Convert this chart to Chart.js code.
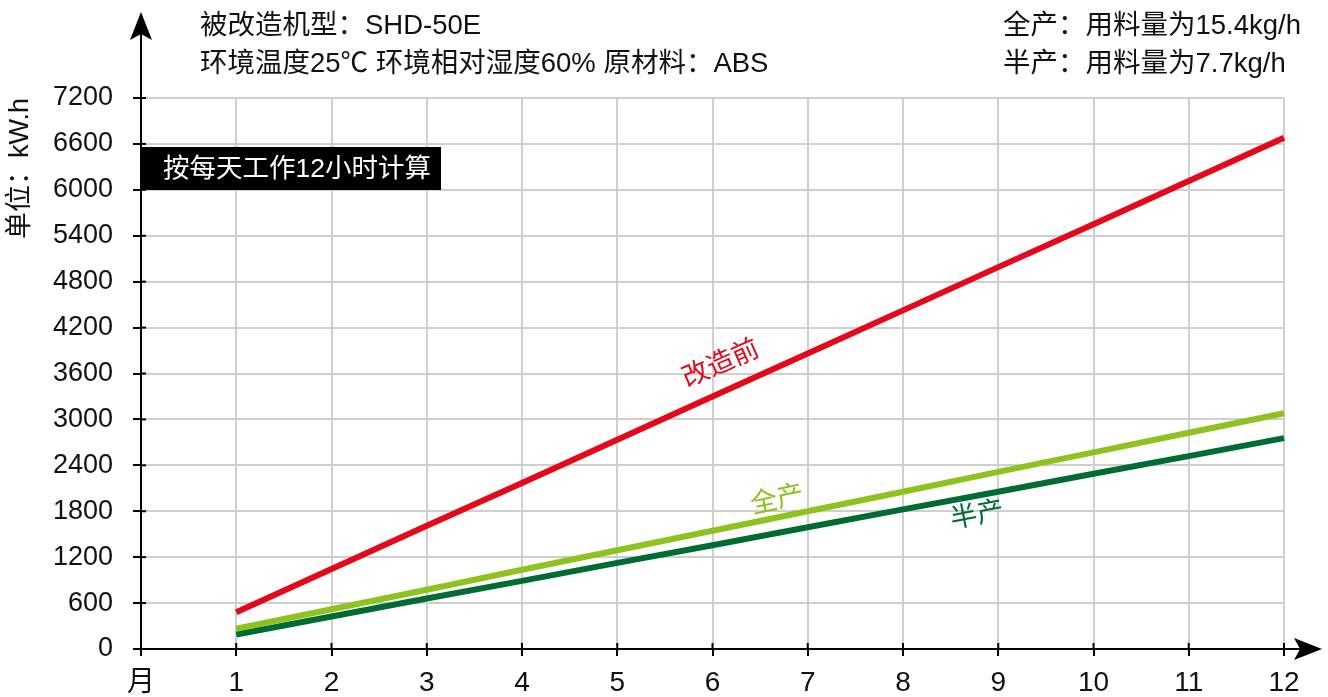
<!DOCTYPE html>
<html>
<head>
<meta charset="utf-8">
<script src="https://cdn.jsdelivr.net/npm/chart.js@4/dist/chart.umd.min.js"></script>
<style>
html,body{margin:0;padding:0;background:#fff;}
#wrap{width:1328px;height:697px;position:relative;}
</style>
</head>
<body>
<div id="wrap"><canvas id="c" width="1328" height="697"></canvas></div>
<script>
// ---- data ----
const categories = ['月','1','2','3','4','5','6','7','8','9','10','11','12'];
const beforeValues = [480,1045,1610,2170,2735,3300,3860,4425,4990,5550,6115,6680];
const fullValues   = [265,520,775,1035,1290,1545,1800,2055,2315,2570,2825,3080];
const halfValues   = [190,425,660,890,1125,1355,1590,1825,2055,2290,2520,2755];
const seriesNames = ['改造前','全产','半产'];
const yTicks = [0,600,1200,1800,2400,3000,3600,4200,4800,5400,6000,6600,7200];
const yTitle = '单位：kW.h';
const noteText = '按每天工作12小时计算';
const headerLeft = ['被改造机型：SHD-50E','环境温度25℃ 环境相对湿度60% 原材料：ABS'];
const headerRight = ['全产：用料量为15.4kg/h','半产：用料量为7.7kg/h'];

const FONT = "'Liberation Sans','Noto Sans CJK SC',sans-serif";
const RED = '#e3091b', LG = '#8dc21f', DG = '#006b33';

const extras = {
  id:'extras',
  afterDraw(chart){
    const ctx = chart.ctx, ca = chart.chartArea;
    const xs = chart.scales.x, ys = chart.scales.y;
    ctx.save();
    // inner tick stubs
    ctx.strokeStyle = '#000'; ctx.lineWidth = 2;
    yTicks.forEach(v=>{ if(v===0) return; const p = ys.getPixelForValue(v);
      ctx.beginPath(); ctx.moveTo(ca.left, p); ctx.lineTo(ca.left+5, p); ctx.stroke(); });
    for(let i=1;i<categories.length;i++){ const p = xs.getPixelForValue(i);
      ctx.beginPath(); ctx.moveTo(p, ca.bottom); ctx.lineTo(p, ca.bottom-6); ctx.stroke(); }
    // axis extensions + arrows
    ctx.beginPath(); ctx.moveTo(ca.left, ca.top); ctx.lineTo(ca.left, 30); ctx.stroke();
    ctx.beginPath(); ctx.moveTo(ca.right, ca.bottom); ctx.lineTo(1305, ca.bottom); ctx.stroke();
    ctx.fillStyle = '#000';
    ctx.beginPath(); ctx.moveTo(ca.left, 12); ctx.lineTo(ca.left-11, 40); ctx.lineTo(ca.left, 34); ctx.lineTo(ca.left+11, 40); ctx.closePath(); ctx.fill();
    ctx.beginPath(); ctx.moveTo(1322, ca.bottom); ctx.lineTo(1294, ca.bottom-11); ctx.lineTo(1300, ca.bottom); ctx.lineTo(1294, ca.bottom+11); ctx.closePath(); ctx.fill();
    // note box
    const bt = ys.getPixelForValue(6560), bb = bt + 43;
    ctx.fillStyle = '#000';
    ctx.fillRect(ca.left, bt, 300, bb-bt);
    ctx.fillStyle = '#fff'; ctx.font = '26.5px '+FONT; ctx.textBaseline = 'middle'; ctx.textAlign = 'left';
    ctx.fillText(noteText, ca.left+22, (bt+bb)/2+1);
    // header texts
    ctx.fillStyle = '#111'; ctx.font = '27.5px '+FONT;
    ctx.fillText(headerLeft[0], 200, 26);
    ctx.fillText(headerLeft[1], 200, 64);
    ctx.fillText(headerRight[0], 1003, 26);
    ctx.fillText(headerRight[1], 1003, 64);
    // series labels
    const lbl = (txt, color, xv, yv, ang) => {
      const px = ca.left + (ca.right-ca.left) * xv/12;
      const py = ys.getPixelForValue(yv);
      ctx.save(); ctx.translate(px, py); ctx.rotate(ang*Math.PI/180);
      ctx.fillStyle = color; ctx.font = '27px '+FONT; ctx.textAlign='center'; ctx.textBaseline='middle';
      ctx.fillText(txt, 0, 0); ctx.restore();
    };
    lbl(seriesNames[0], RED, 6.09, 3720, -24);
    lbl(seriesNames[1], LG, 6.68, 1940, -12);
    lbl(seriesNames[2], DG, 8.78, 1740, -11);
    ctx.restore();
  }
};

new Chart(document.getElementById('c'), {
  type:'line',
  data:{
    labels: categories,
    datasets:[
      {label:seriesNames[0], data:[null, ...beforeValues], borderColor:RED, borderWidth:6, pointRadius:0, tension:0},
      {label:seriesNames[1], data:[null, ...fullValues], borderColor:LG, borderWidth:6, pointRadius:0, tension:0},
      {label:seriesNames[2], data:[null, ...halfValues], borderColor:DG, borderWidth:6, pointRadius:0, tension:0}
    ]
  },
  options:{
    responsive:false, animation:false, events:[],
    layout:{padding:{top:98,right:44,left:0,bottom:0}},
    plugins:{legend:{display:false}, tooltip:{enabled:false}},
    scales:{
      x:{
        type:'category', offset:false,
        grid:{color:'#cfcfcf', lineWidth:2, tickColor:'#000', tickLength:7, tickWidth:2},
        border:{color:'#000', width:2},
        ticks:{color:'#111', font:{family:FONT, size:28}, padding:10, maxRotation:0, autoSkip:false},
        afterFit(s){ s.height = 48; }
      },
      y:{
        min:0, max:7200,
        afterBuildTicks(s){ s.ticks = yTicks.map(v=>({value:v})); },
        grid:{color:'#cfcfcf', lineWidth:2, tickColor:'#000', tickLength:8, tickWidth:2},
        border:{color:'#000', width:2},
        ticks:{color:'#111', font:{family:FONT, size:27}, padding:20, callback:(v)=>String(v)},
        title:{display:true, text:yTitle, align:'end', color:'#111', font:{family:FONT, size:27}, padding:{top:4,bottom:0}},
        afterFit(s){ s.width = 141; }
      }
    }
  },
  plugins:[extras]
});
</script>
</body>
</html>
